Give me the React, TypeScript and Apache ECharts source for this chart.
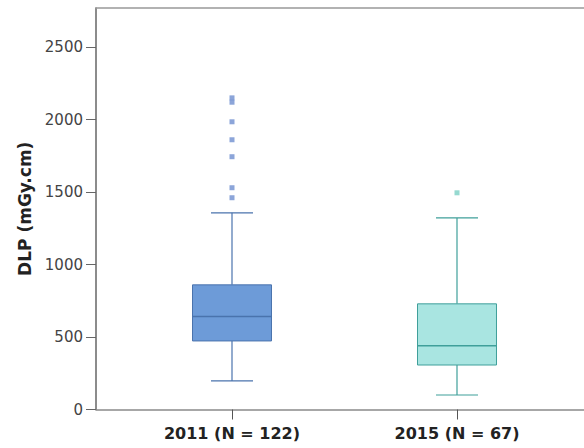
import React, { useEffect, useRef } from "react";
import * as echarts from "echarts";

const categories = ["2011 (N = 122)", "2015 (N = 67)"];
// [low whisker, Q1, median, Q3, high whisker]
const boxStats = [
  [197, 473, 641, 860, 1357],
  [100, 307, 439, 729, 1322],
];
const outliers2011 = [2150, 2120, 1985, 1861, 1744, 1530, 1461];
const outliers2015 = [1495];
const yTicks = [0, 500, 1000, 1500, 2000, 2500];

const fillColors = ["#6d9bd8", "#a9e5e1"];
const lineColors = ["#4a73ad", "#3f9f9a"];
const outlierColors = ["#6f8fd0", "#7ccfc4"];

export default function App() {
  const ref = useRef<HTMLDivElement>(null);
  useEffect(() => {
    if (!ref.current) return;
    const chart = echarts.init(ref.current, undefined, { renderer: "svg" });
    const boxData = boxStats.map((s, i) => [i, ...s]);
    const outData = [
      ...outliers2011.map((v) => [0, v]),
      ...outliers2015.map((v) => [1, v]),
    ];
    const yMax = 2770;
    chart.setOption({
      animation: false,
      grid: [
        { left: 96, top: 8, right: 0, bottom: 38.5 },
        { left: 119.5, top: 8, width: 450, bottom: 38.5 },
      ],
      xAxis: [
        {
          type: "value",
          gridIndex: 0,
          min: 0,
          max: 1,
          axisLine: { show: true, lineStyle: { color: "#8a8a8a", width: 1.5 } },
          axisTick: { show: false },
          axisLabel: { show: false },
          splitLine: { show: false },
        },
        {
          type: "value",
          gridIndex: 0,
          position: "top",
          min: 0,
          max: 1,
          axisLine: { show: true, lineStyle: { color: "#999", width: 1.5 } },
          axisTick: { show: false },
          axisLabel: { show: false },
          splitLine: { show: false },
        },
        {
          type: "category",
          gridIndex: 1,
          data: categories,
          axisLine: { show: false },
          axisTick: {
            show: true,
            alignWithLabel: true,
            length: 10,
            lineStyle: { color: "#555" },
          },
          axisLabel: {
            margin: 16,
            fontFamily: "DejaVu Sans",
            fontWeight: "bold",
            fontSize: 16,
            color: "#222",
          },
        },
      ],
      yAxis: [
        {
          type: "value",
          gridIndex: 0,
          min: 0,
          max: yMax,
          interval: 500,
          name: "DLP (mGy.cm)",
          nameLocation: "middle",
          nameGap: 56,
          nameTextStyle: {
            fontFamily: "DejaVu Sans",
            fontWeight: "bold",
            fontSize: 17,
            color: "#222",
          },
          axisLine: { show: true, lineStyle: { color: "#666", width: 1.5 } },
          axisTick: {
            show: true,
            length: 10,
            customValues: yTicks,
            lineStyle: { color: "#666" },
          },
          axisLabel: {
            margin: 13,
            customValues: yTicks,
            formatter: (v: number) => String(v),
            fontFamily: "DejaVu Sans",
            fontSize: 15,
            color: "#444",
          },
          splitLine: { show: false },
        },
        {
          type: "value",
          gridIndex: 1,
          min: 0,
          max: yMax,
          show: false,
          splitLine: { show: false },
        },
      ],
      series: [
        {
          type: "custom",
          xAxisIndex: 2,
          yAxisIndex: 1,
          data: boxData,
          renderItem: (params: any, api: any) => {
            const idx = api.value(0);
            const bw = api.size([1, 0])[0];
            const boxW = bw * 0.351;
            const capW = bw * 0.187;
            const low = api.coord([idx, api.value(1)]);
            const q1 = api.coord([idx, api.value(2)]);
            const med = api.coord([idx, api.value(3)]);
            const q3 = api.coord([idx, api.value(4)]);
            const high = api.coord([idx, api.value(5)]);
            const cx = low[0];
            const lc = lineColors[idx];
            const ls = { stroke: lc, lineWidth: 1.2 };
            return {
              type: "group",
              children: [
                { type: "line", shape: { x1: cx, y1: high[1], x2: cx, y2: q3[1] }, style: ls },
                { type: "line", shape: { x1: cx, y1: q1[1], x2: cx, y2: low[1] }, style: ls },
                { type: "line", shape: { x1: cx - capW / 2, y1: high[1], x2: cx + capW / 2, y2: high[1] }, style: ls },
                { type: "line", shape: { x1: cx - capW / 2, y1: low[1], x2: cx + capW / 2, y2: low[1] }, style: ls },
                {
                  type: "rect",
                  shape: { x: cx - boxW / 2, y: q3[1], width: boxW, height: q1[1] - q3[1] },
                  style: { fill: fillColors[idx], stroke: lc, lineWidth: 1 },
                },
                { type: "line", shape: { x1: cx - boxW / 2, y1: med[1], x2: cx + boxW / 2, y2: med[1] }, style: { stroke: lc, lineWidth: 1.5 } },
              ],
            };
          },
        },
        {
          type: "scatter",
          xAxisIndex: 2,
          yAxisIndex: 1,
          symbol: "rect",
          symbolSize: 5,
          data: outData,
          itemStyle: {
            color: (p: any) => outlierColors[p.data[0]],
          },
        },
      ],
    });
    return () => chart.dispose();
  }, []);
  return <div ref={ref} style={{ width: 584, height: 448, position: "absolute", left: 0, top: 0 }} />;
}
